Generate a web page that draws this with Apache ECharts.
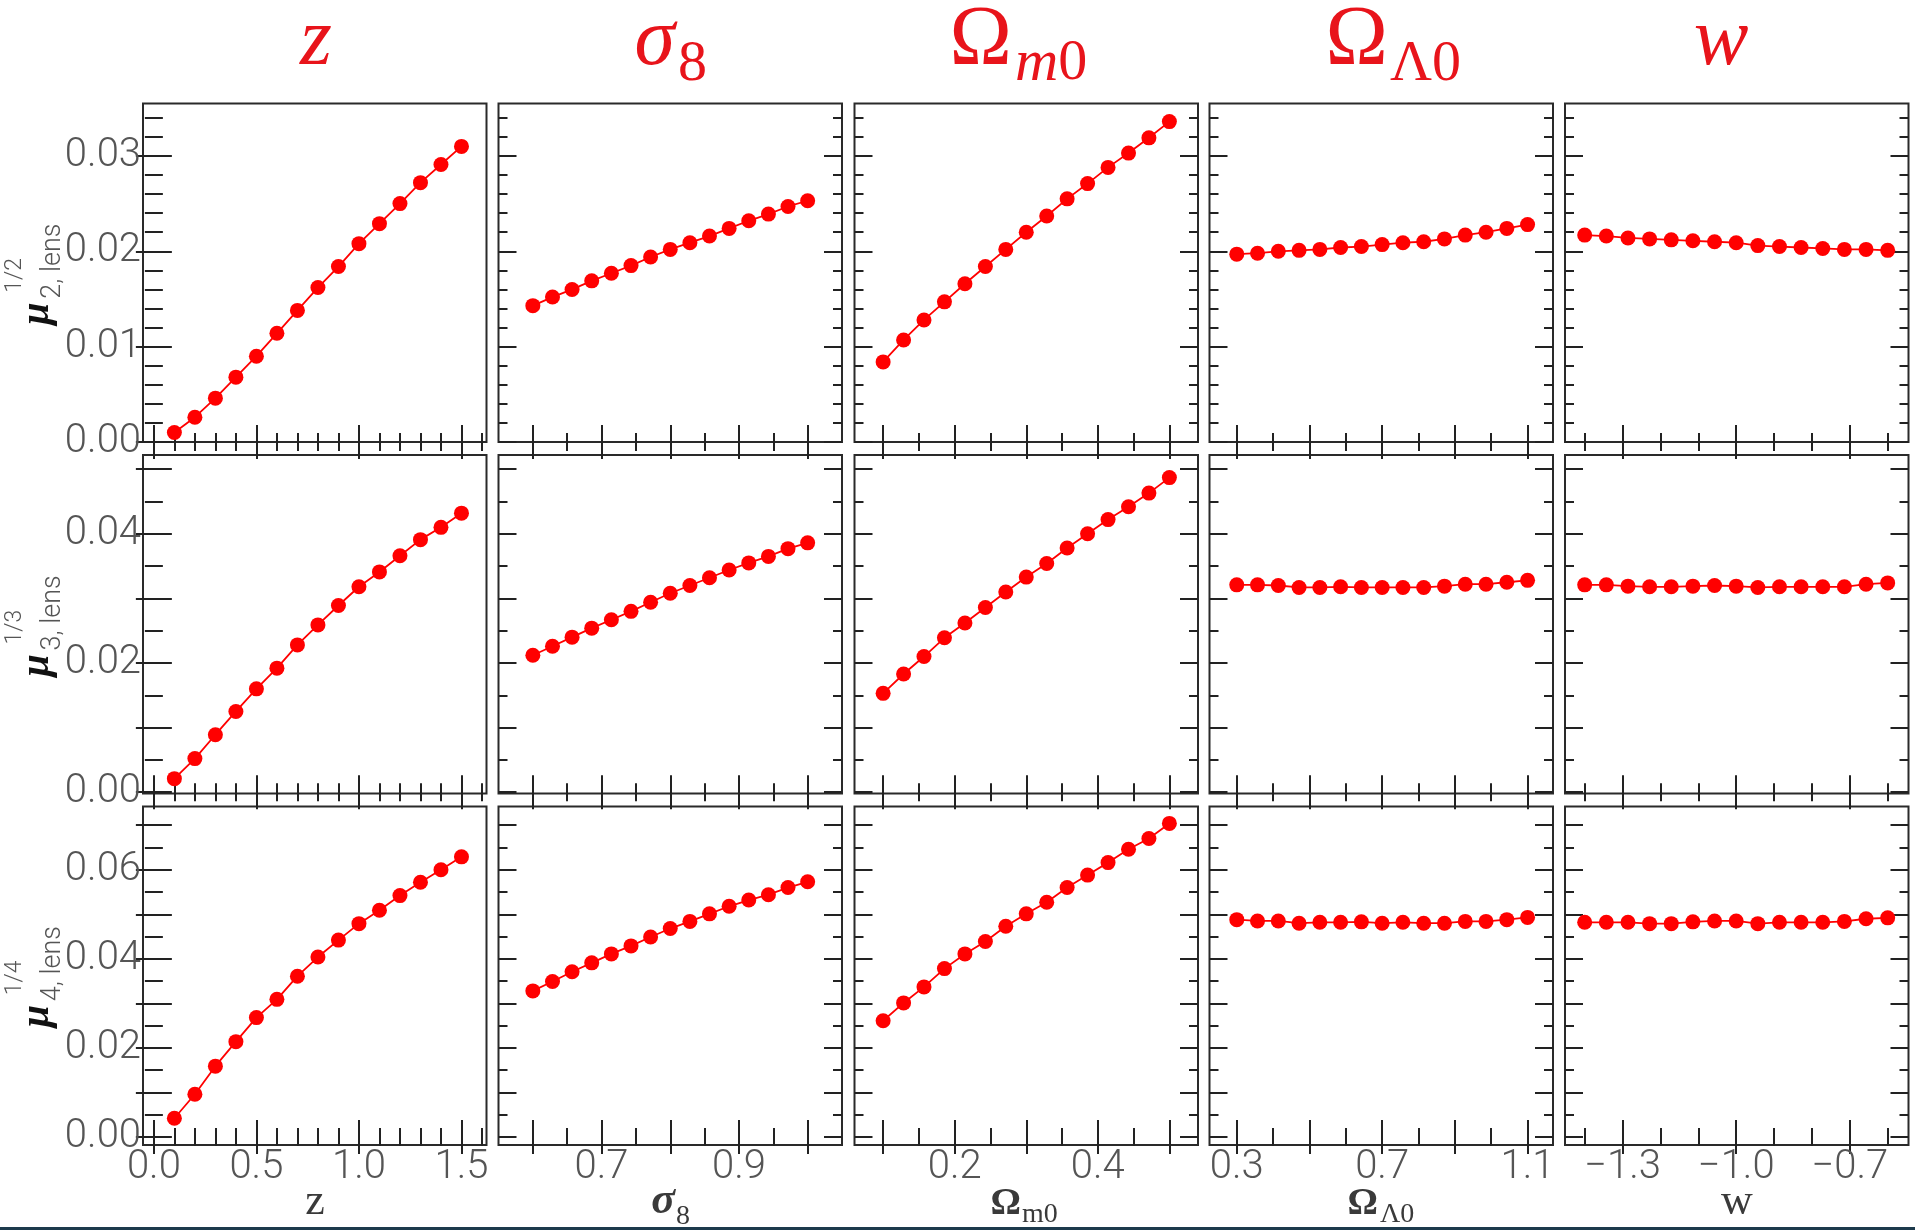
<!DOCTYPE html>
<html><head><meta charset="utf-8">
<script src="https://cdn.jsdelivr.net/npm/echarts@6/dist/echarts.min.js"></script>
<style>html,body{margin:0;padding:0;background:#fff}#c{width:1915px;height:1230px}</style>
</head><body><div id="c"></div>
<script>
// ---- x values (parameter grids) ----
const zVals      = [0.1, 0.2, 0.3, 0.4, 0.5, 0.6, 0.7, 0.8, 0.9, 1.0, 1.1, 1.2, 1.3, 1.4, 1.5];
const sigma8Vals = [0.6, 0.6286, 0.6571, 0.6857, 0.7143, 0.7429, 0.7714, 0.8, 0.8286, 0.8571, 0.8857, 0.9143, 0.9429, 0.9714, 1.0];
const omegaMVals = [0.1, 0.1286, 0.1571, 0.1857, 0.2143, 0.2429, 0.2714, 0.3, 0.3286, 0.3571, 0.3857, 0.4143, 0.4429, 0.4714, 0.5];
const omegaLVals = [0.3, 0.3571, 0.4143, 0.4714, 0.5286, 0.5857, 0.6429, 0.7, 0.7571, 0.8143, 0.8714, 0.9286, 0.9857, 1.0429, 1.1];
const wVals      = [-1.4, -1.3429, -1.2857, -1.2286, -1.1714, -1.1143, -1.0571, -1.0, -0.9429, -0.8857, -0.8286, -0.7714, -0.7143, -0.6571, -0.6];

// ---- row 1: mu2^(1/2) ----
const mu2_z  = [0.0010, 0.0026, 0.0046, 0.0068, 0.0090, 0.0114, 0.0138, 0.0162, 0.0184, 0.0208, 0.0229, 0.0250, 0.0272, 0.0291, 0.0310];
const mu2_s8 = [0.0143, 0.0152, 0.0160, 0.0169, 0.0177, 0.0185, 0.0194, 0.0202, 0.0209, 0.0216, 0.0224, 0.0232, 0.0239, 0.0247, 0.0253];
const mu2_om = [0.0084, 0.0107, 0.0128, 0.0147, 0.0166, 0.0184, 0.0202, 0.0220, 0.0237, 0.0255, 0.0271, 0.0288, 0.0303, 0.0319, 0.0336];
const mu2_ol = [0.0197, 0.0198, 0.0200, 0.0201, 0.0202, 0.0204, 0.0205, 0.0207, 0.0209, 0.0210, 0.0213, 0.0217, 0.0220, 0.0224, 0.0228];
const mu2_w  = [0.0217, 0.0216, 0.0214, 0.0213, 0.0212, 0.0211, 0.0210, 0.0209, 0.0206, 0.0205, 0.0204, 0.0203, 0.0202, 0.0202, 0.0201];

// ---- row 2: mu3^(1/3) ----
const mu3_z  = [0.0021, 0.0052, 0.0089, 0.0125, 0.0160, 0.0192, 0.0228, 0.0259, 0.0289, 0.0318, 0.0341, 0.0366, 0.0391, 0.0410, 0.0432];
const mu3_s8 = [0.0212, 0.0226, 0.0240, 0.0254, 0.0267, 0.0280, 0.0294, 0.0308, 0.0320, 0.0332, 0.0344, 0.0355, 0.0365, 0.0377, 0.0386];
const mu3_om = [0.0153, 0.0183, 0.0210, 0.0239, 0.0262, 0.0286, 0.0310, 0.0333, 0.0354, 0.0378, 0.0400, 0.0422, 0.0442, 0.0463, 0.0487];
const mu3_ol = [0.0321, 0.0321, 0.0320, 0.0317, 0.0317, 0.0318, 0.0317, 0.0317, 0.0317, 0.0317, 0.0319, 0.0322, 0.0322, 0.0325, 0.0328];
const mu3_w  = [0.0321, 0.0321, 0.0319, 0.0318, 0.0318, 0.0319, 0.0320, 0.0319, 0.0317, 0.0318, 0.0318, 0.0318, 0.0318, 0.0322, 0.0324];

// ---- row 3: mu4^(1/4) ----
const mu4_z  = [0.0042, 0.0096, 0.0159, 0.0214, 0.0268, 0.0309, 0.0361, 0.0404, 0.0442, 0.0479, 0.0509, 0.0542, 0.0572, 0.0600, 0.0629];
const mu4_s8 = [0.0328, 0.0349, 0.0371, 0.0391, 0.0411, 0.0429, 0.0449, 0.0468, 0.0484, 0.0501, 0.0518, 0.0532, 0.0544, 0.0560, 0.0573];
const mu4_om = [0.0261, 0.0301, 0.0337, 0.0378, 0.0411, 0.0439, 0.0473, 0.0501, 0.0527, 0.0560, 0.0588, 0.0616, 0.0646, 0.0670, 0.0704];
const mu4_ol = [0.0488, 0.0485, 0.0485, 0.0480, 0.0482, 0.0482, 0.0483, 0.0480, 0.0482, 0.0480, 0.0480, 0.0484, 0.0484, 0.0488, 0.0493];
const mu4_w  = [0.0482, 0.0482, 0.0482, 0.0479, 0.0479, 0.0483, 0.0485, 0.0485, 0.0479, 0.0482, 0.0482, 0.0482, 0.0484, 0.0490, 0.0492];

// ---- axis ranges and ticks ----
const xMin = [-0.053, 0.55, 0.06, 0.225, -1.452];
const xMax = [1.622, 1.05, 0.54, 1.17, -0.545];
const yMin = [0, -0.0002, -0.0018];
const yMax = [0.0355, 0.0522, 0.0742];

const xMajorTicks = [[0, 0.5, 1.0, 1.5], [0.6, 0.7, 0.8, 0.9, 1.0], [0.1, 0.2, 0.3, 0.4, 0.5], [0.3, 0.5, 0.7, 0.9, 1.1], [-1.3, -1.0, -0.7]];
const xMinorTicks = [[0.1, 0.2, 0.3, 0.4, 0.6, 0.7, 0.8, 0.9, 1.1, 1.2, 1.3, 1.4, 1.6], [0.65, 0.75, 0.85, 0.95], [0.15, 0.25, 0.35, 0.45], [0.4, 0.6, 0.8, 1.0], [-1.4, -1.2, -1.1, -0.9, -0.8, -0.6]];
const xTickLabels = [[0.0, 0.5, 1.0, 1.5], [0.7, 0.9], [0.2, 0.4], [0.3, 0.7, 1.1], [-1.3, -1.0, -0.7]];

const yMajorTicks = [[0, 0.01, 0.02, 0.03], [0, 0.01, 0.02, 0.03, 0.04, 0.05], [0, 0.01, 0.02, 0.03, 0.04, 0.05, 0.06, 0.07]];
const yMinorTicks = [
  [0.002, 0.004, 0.006, 0.008, 0.012, 0.014, 0.016, 0.018, 0.022, 0.024, 0.026, 0.028, 0.032, 0.034],
  [0.005, 0.015, 0.025, 0.035, 0.045],
  [0.005, 0.015, 0.025, 0.035, 0.045, 0.055, 0.065]
];
const yTickLabels = [[0, 0.01, 0.02, 0.03], [0, 0.02, 0.04], [0, 0.02, 0.04, 0.06]];

const xParams = [zVals, sigma8Vals, omegaMVals, omegaLVals, wVals];
const rowSeries = [
  [mu2_z, mu2_s8, mu2_om, mu2_ol, mu2_w],
  [mu3_z, mu3_s8, mu3_om, mu3_ol, mu3_w],
  [mu4_z, mu4_s8, mu4_om, mu4_ol, mu4_w]
];

// ---- layout ----
const colLeft = [143, 498.5, 854.5, 1209.5, 1565];
const rowTop = [103.5, 455, 806.5];
const panelW = 343.5, panelH = 338.5;
const tickColor = '#222';
const labelColor = '#555';
const labelFont = 'Roboto, "DejaVu Sans", sans-serif';
const serifFont = '"Liberation Serif", "DejaVu Serif", serif';
const red = '#ff0000';

const option = {animation: false, backgroundColor: '#ffffff', grid: [], xAxis: [], yAxis: [], series: [], graphic: []};

function tickAxis(base, pos, ticks, len, labelCfg) {
  return Object.assign({}, base, {
    position: pos,
    axisLine: {show: false},
    splitLine: {show: false},
    axisTick: {show: true, inside: true, length: len, customValues: ticks, lineStyle: {color: tickColor, width: 2}},
    axisLabel: labelCfg || {show: false}
  });
}

for (let r = 0; r < 3; r++) {
  for (let c = 0; c < 5; c++) {
    const g = r * 5 + c;
    option.grid.push({left: colLeft[c], top: rowTop[r], width: panelW, height: panelH, show: true,
      borderColor: '#2a2a2a', borderWidth: 2, backgroundColor: 'transparent'});
    const xb = {gridIndex: g, type: 'value', min: xMin[c], max: xMax[c]};
    const yb = {gridIndex: g, type: 'value', min: yMin[r], max: yMax[r]};
    const xLab = (r === 2) ? {show: true, customValues: xTickLabels[c], margin: 3, color: labelColor,
      fontFamily: labelFont, fontWeight: 300, fontSize: 40,
      formatter: v => v.toFixed(1).replace('-', '\u2212')} : null;
    const yLab = (c === 0) ? {show: true, customValues: yTickLabels[r], margin: 2, color: labelColor,
      fontFamily: labelFont, fontWeight: 300, fontSize: 40, padding: [0, 0, 8, 0],
      formatter: v => v.toFixed(2)} : null;
    option.xAxis.push(tickAxis(xb, 'bottom', xMajorTicks[c], 17, xLab));
    option.xAxis.push(tickAxis(xb, 'bottom', xMinorTicks[c], 9, null));
    option.xAxis.push(tickAxis(xb, 'top', xMajorTicks[c], 17, null));
    option.xAxis.push(tickAxis(xb, 'top', xMinorTicks[c], 9, null));
    option.yAxis.push(tickAxis(yb, 'left', yMajorTicks[r], 18, yLab));
    option.yAxis.push(tickAxis(yb, 'left', yMinorTicks[r], 9, null));
    option.yAxis.push(tickAxis(yb, 'right', yMajorTicks[r], 18, null));
    option.yAxis.push(tickAxis(yb, 'right', yMinorTicks[r], 9, null));
    const xs = xParams[c], ys = rowSeries[r][c];
    option.series.push({
      type: 'line', xAxisIndex: g * 4, yAxisIndex: g * 4,
      data: xs.map((x, i) => [x, ys[i]]),
      symbol: 'circle', symbolSize: 15, showSymbol: true,
      lineStyle: {color: red, width: 1.8}, itemStyle: {color: red},
      emphasis: {disabled: true}, z: 5
    });
  }
}

// ---- text helpers ----
function txt(x, y, text, o) {
  return {type: 'text', x: x, y: y, rotation: o.rot || 0, z: 100, silent: true,
    style: {text: text, fontFamily: o.ff || serifFont, fontSize: o.fs,
      fontStyle: o.it ? 'italic' : 'normal', fontWeight: o.bold ? 'bold' : (o.fw || 'normal'),
      fill: o.fill, align: o.align || 'center', verticalAlign: 'middle', rich: o.rich}};
}
const titleRed = '#e8141b';
const G = option.graphic;
// top titles
G.push(txt(316, 42, 'z', {fs: 82, it: true, fill: titleRed}));
G.push(txt(675, 42, '\u03c3', {fs: 82, it: true, fill: titleRed, align: 'right'}));
G.push(txt(678, 65, '8', {fs: 58, fill: titleRed, align: 'left'}));
G.push(txt(1012, 42, '\u03a9', {fs: 84, fill: titleRed, align: 'right'}));
G.push(txt(1015, 64, '{a|m}{b|0}', {fs: 58, fill: titleRed, align: 'left', rich: {
  a: {fontFamily: serifFont, fontStyle: 'italic', fontSize: 60, fill: titleRed},
  b: {fontFamily: serifFont, fontStyle: 'normal', fontSize: 58, fill: titleRed}}}));
G.push(txt(1388, 42, '\u03a9', {fs: 84, fill: titleRed, align: 'right'}));
G.push(txt(1390, 65, '\u039b0', {fs: 58, fill: titleRed, align: 'left'}));
G.push(txt(1721, 42, 'w', {fs: 82, it: true, fill: titleRed}));

// x-axis titles
const axTitle = '#3a3a3a';
G.push(txt(315, 1202, 'z', {fs: 44, fill: axTitle}));
G.push(txt(675, 1202, '\u03c3', {fs: 44, it: true, bold: true, fill: axTitle, align: 'right'}));
G.push(txt(676, 1217, '8', {fs: 28, fill: axTitle, align: 'left'}));
G.push(txt(1021, 1204, '\u03a9', {fs: 38, bold: true, fill: axTitle, align: 'right'}));
G.push(txt(1022, 1215, 'm0', {fs: 28, fill: axTitle, align: 'left'}));
G.push(txt(1378, 1204, '\u03a9', {fs: 38, bold: true, fill: axTitle, align: 'right'}));
G.push(txt(1380, 1215, '\u039b0', {fs: 28, fill: axTitle, align: 'left'}));
G.push(txt(1737, 1202, 'w', {fs: 44, fill: axTitle}));

// y-axis titles (rotated)
const rowCenter = [272.75, 624.5, 975.25];
const supTexts = ['1/2', '1/3', '1/4'];
const subTexts = ['2, lens', '3, lens', '4, lens'];
for (let r = 0; r < 3; r++) {
  const cy = rowCenter[r];
  G.push(txt(38, cy + 52, '\u03bc', {fs: 40, it: true, bold: true, fill: '#111', align: 'left', rot: Math.PI / 2}));
  G.push(txt(15, cy + 20, supTexts[r], {fs: 23, ff: labelFont, fw: 300, fill: labelColor, align: 'left', rot: Math.PI / 2}));
  G.push(txt(53, cy + 26, subTexts[r], {fs: 27, ff: labelFont, fw: 300, fill: labelColor, align: 'left', rot: Math.PI / 2}));
}
// bottom dark band
G.push({type: 'rect', z: 200, silent: true, shape: {x: 0, y: 1227, width: 1915, height: 3}, style: {fill: '#1d3a4c'}});

const chart = echarts.init(document.getElementById('c'), null, {renderer: 'canvas'});
chart.setOption(option);
</script>
</body></html>
